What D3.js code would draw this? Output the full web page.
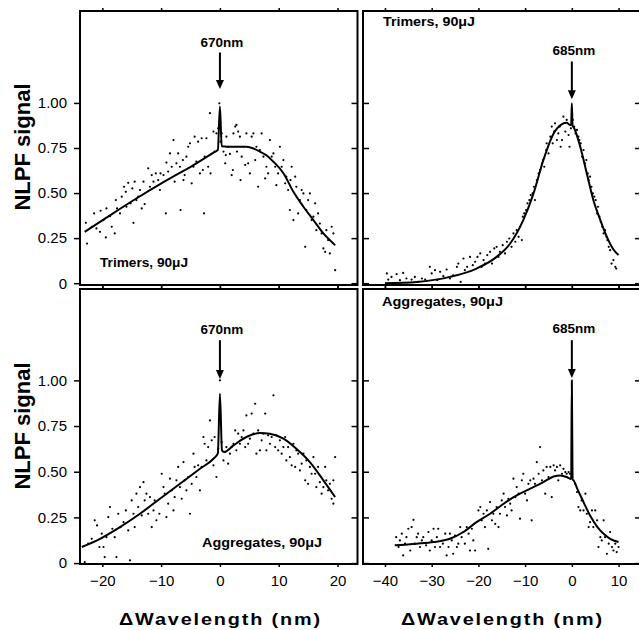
<!DOCTYPE html>
<html>
<head>
<meta charset="utf-8">
<script src="https://cdn.jsdelivr.net/npm/d3@7"></script>
<style>
  body { margin: 0; background: #fff; }
  svg { display: block; font-family: "Liberation Sans", Arial, sans-serif; }
</style>
</head>
<body>
<div id="vis"></div>
<script>
// Four NLPF panels: trimers / aggregates, two excitation wavelengths.
// Dots = measured signal, line = fit, arrow = pump wavelength.

// ---- data: [delta wavelength (nm), NLPF signal] ----
const tlDots = [[-22.8,0.335],[-22.6,0.22],[-21.8,0.313],[-21.4,0.387],[-21.0,0.304],[-20.4,0.285],[-20.3,0.402],[-19.8,0.35],[-19.4,0.254],[-19.3,0.415],[-18.7,0.372],[-18.4,0.313],[-17.9,0.276],[-17.7,0.461],[-17.5,0.415],[-17.0,0.387],[-16.7,0.48],[-16.3,0.535],[-16.0,0.507],[-15.9,0.424],[-15.6,0.557],[-15.2,0.443],[-14.9,0.526],[-14.7,0.335],[-14.5,0.563],[-14.2,0.461],[-13.9,0.48],[-13.6,0.517],[-13.3,0.415],[-13.0,0.563],[-12.8,0.439],[-12.2,0.637],[-11.9,0.535],[-11.6,0.6],[-11.3,0.563],[-10.9,0.609],[-10.5,0.572],[-10.2,0.517],[-10.1,0.609],[-9.6,0.6],[-9.2,0.387],[-9.1,0.669],[-8.8,0.619],[-8.5,0.72],[-8.2,0.646],[-7.9,0.794],[-7.7,0.563],[-7.4,0.665],[-7.1,0.72],[-6.8,0.646],[-6.7,0.406],[-6.3,0.683],[-6.2,0.572],[-6.0,0.6],[-5.7,0.702],[-5.4,0.757],[-5.1,0.776],[-4.8,0.554],[-4.5,0.646],[-4.3,0.813],[-4.0,0.674],[-3.7,0.785],[-3.4,0.609],[-3.1,0.804],[-2.9,0.628],[-2.7,0.387],[-2.6,0.702],[-2.3,0.804],[-2.0,0.646],[-1.7,0.943],[-1.6,0.609],[-1.1,0.841],[-0.9,0.73],[-0.6,0.831],[-0.3,0.859],[-0.1,0.998],[0.1,0.785],[0.3,0.831],[0.6,0.73],[0.9,0.665],[1.0,0.711],[1.1,0.813],[1.4,0.757],[1.7,0.717],[2.0,0.6],[2.2,0.628],[2.3,0.831],[2.6,0.869],[2.8,0.878],[2.9,0.73],[3.1,0.841],[3.4,0.813],[3.5,0.572],[3.7,0.702],[4.0,0.757],[4.3,0.656],[4.5,0.831],[4.8,0.665],[5.1,0.609],[5.4,0.813],[5.7,0.831],[6.0,0.683],[6.2,0.757],[6.5,0.535],[6.8,0.739],[7.1,0.831],[7.4,0.702],[7.7,0.581],[7.9,0.646],[8.2,0.609],[8.5,0.794],[8.8,0.702],[9.1,0.72],[9.4,0.646],[9.6,0.544],[9.9,0.609],[10.2,0.757],[10.5,0.646],[10.8,0.683],[11.1,0.554],[11.3,0.591],[11.6,0.517],[11.9,0.406],[12.0,0.572],[12.2,0.646],[12.5,0.35],[12.8,0.591],[13.0,0.535],[13.3,0.387],[13.6,0.461],[13.9,0.517],[14.2,0.498],[14.5,0.202],[14.7,0.406],[15.0,0.461],[15.3,0.498],[15.6,0.35],[15.9,0.369],[16.2,0.443],[16.4,0.294],[16.7,0.387],[17.0,0.331],[17.3,0.276],[17.6,0.193],[17.9,0.174],[18.1,0.294],[18.4,0.239],[18.7,0.165],[19.0,0.313],[19.3,0.276],[19.6,0.072]];
const tlFit = [[-23.0,0.285],[-20.4,0.34],[-14.7,0.46],[-9.1,0.57],[-4.5,0.655],[-1.1,0.724],[-0.35,0.74],[0,0.98],[0.3,0.76],[2.3,0.757],[4.5,0.757],[6.8,0.73],[7.9,0.71],[9.1,0.674],[10.8,0.61],[12.5,0.507],[14.2,0.424],[15.9,0.35],[17.6,0.276],[19.6,0.211]];

const trDots = [[-39.6,0.054],[-39.3,0.02],[-38.6,0.035],[-37.5,0.05],[-36.8,0.017],[-36.1,0.057],[-35.4,0.026],[-34.3,0.02],[-33.6,0.035],[-32.9,0.007],[-32.1,0.026],[-31.4,0.02],[-30.4,0.091],[-30.0,0.054],[-29.3,0.072],[-28.8,0.017],[-28.2,0.063],[-27.5,0.039],[-26.8,0.076],[-26.1,0.026],[-25.4,0.044],[-24.6,0.091],[-24.3,0.109],[-23.8,0.007],[-23.2,0.137],[-22.9,0.072],[-22.4,0.091],[-21.8,0.146],[-21.2,0.1],[-20.7,0.119],[-20.2,0.146],[-19.6,0.165],[-19.3,0.091],[-18.9,0.128],[-18.6,0.109],[-18.1,0.156],[-17.5,0.174],[-17.1,0.109],[-16.6,0.193],[-16.1,0.202],[-15.7,0.146],[-15.4,0.174],[-14.8,0.211],[-14.3,0.165],[-13.9,0.23],[-13.4,0.248],[-12.9,0.202],[-12.5,0.276],[-12.1,0.23],[-11.8,0.294],[-11.4,0.257],[-11.1,0.313],[-10.7,0.239],[-10.5,0.369],[-10.2,0.387],[-9.8,0.406],[-9.5,0.443],[-9.1,0.461],[-8.8,0.489],[-8.4,0.498],[-8.1,0.535],[-7.9,0.461],[-7.5,0.572],[-7.1,0.609],[-6.8,0.628],[-6.4,0.665],[-6.2,0.683],[-5.9,0.646],[-5.5,0.739],[-5.4,0.776],[-5.0,0.72],[-4.6,0.813],[-4.3,0.869],[-4.1,0.776],[-3.8,0.841],[-3.6,0.887],[-3.2,0.794],[-2.9,0.831],[-2.6,0.869],[-2.4,0.757],[-2.1,0.794],[-1.8,0.924],[-1.4,0.841],[-1.1,0.906],[-0.7,0.822],[-0.5,0.757],[-0.2,0.859],[0.2,0.906],[0.5,0.869],[0.8,0.831],[1.1,0.85],[1.4,0.813],[1.6,0.794],[1.9,0.776],[2.2,0.702],[2.5,0.739],[2.8,0.665],[3.1,0.683],[3.4,0.609],[3.6,0.572],[3.9,0.591],[4.2,0.535],[4.5,0.498],[4.8,0.48],[5.1,0.461],[5.4,0.387],[5.6,0.424],[5.9,0.369],[6.2,0.341],[6.5,0.313],[6.8,0.276],[7.1,0.294],[7.4,0.257],[7.6,0.239],[7.9,0.202],[8.2,0.183],[8.5,0.109],[8.9,0.128],[9.3,0.091],[9.5,0.081]];
const trFit = [[-40,0.0],[-33.2,0.007],[-26.1,0.035],[-20.4,0.081],[-16.1,0.146],[-13.2,0.22],[-10.4,0.35],[-8.2,0.498],[-6.1,0.683],[-3.9,0.831],[-2.1,0.883],[-1.1,0.89],[-0.4,0.878],[-0.15,0.88],[0,0.998],[0.15,0.875],[0.5,0.86],[1.8,0.757],[3.2,0.609],[4.6,0.461],[6.1,0.35],[7.5,0.257],[8.9,0.187],[10.0,0.156]];

const blDots = [[-23.0,0.005],[-22.4,0.106],[-21.8,0.133],[-21.3,0.234],[-20.9,0.206],[-20.5,0.088],[-20.1,0.161],[-19.8,0.088],[-19.6,0.033],[-19.3,0.142],[-19.0,0.252],[-18.7,0.307],[-18.3,0.188],[-17.9,0.142],[-17.6,0.033],[-17.3,0.27],[-16.9,0.197],[-16.4,0.224],[-16.0,0.288],[-15.6,0.179],[-15.3,0.015],[-15.0,0.343],[-14.7,0.27],[-14.5,0.197],[-14.2,0.38],[-13.9,0.307],[-13.6,0.416],[-13.3,0.261],[-13.0,0.443],[-12.8,0.343],[-12.5,0.38],[-12.2,0.27],[-11.9,0.361],[-11.6,0.197],[-11.3,0.288],[-11.1,0.343],[-10.8,0.234],[-10.3,0.27],[-9.9,0.489],[-9.6,0.416],[-9.4,0.38],[-9.1,0.252],[-8.8,0.325],[-8.5,0.462],[-8.2,0.398],[-7.9,0.288],[-7.7,0.361],[-7.4,0.453],[-7.1,0.526],[-6.8,0.416],[-6.5,0.352],[-6.2,0.553],[-6.0,0.453],[-5.7,0.398],[-5.4,0.471],[-5.1,0.27],[-4.8,0.434],[-4.5,0.599],[-4.3,0.526],[-4.0,0.471],[-3.7,0.535],[-3.4,0.398],[-3.1,0.526],[-2.8,0.69],[-2.6,0.653],[-2.3,0.562],[-2.0,0.635],[-1.7,0.781],[-1.4,0.672],[-1.1,0.535],[-0.9,0.69],[-0.6,0.471],[-0.3,0.626],[0.0,1.0],[0.3,0.662],[0.6,0.562],[0.9,0.608],[1.1,0.635],[1.4,0.544],[1.7,0.599],[2.0,0.635],[2.3,0.653],[2.6,0.726],[2.8,0.617],[3.1,0.708],[3.4,0.653],[3.7,0.69],[4.0,0.726],[4.3,0.635],[4.5,0.808],[4.8,0.653],[5.1,0.681],[5.4,0.818],[5.7,0.708],[6.0,0.872],[6.2,0.599],[6.5,0.726],[6.8,0.617],[7.1,0.672],[7.4,0.708],[7.7,0.818],[7.9,0.617],[8.2,0.699],[8.5,0.653],[8.8,0.69],[9.1,0.918],[9.4,0.635],[9.6,0.699],[9.9,0.617],[10.2,0.672],[10.5,0.599],[10.8,0.635],[11.1,0.69],[11.3,0.562],[11.6,0.635],[11.9,0.58],[12.2,0.535],[12.5,0.653],[12.8,0.526],[13.0,0.617],[13.3,0.599],[13.6,0.507],[13.9,0.544],[14.2,0.599],[14.5,0.453],[14.7,0.562],[15.0,0.434],[15.3,0.526],[15.6,0.489],[15.9,0.58],[16.2,0.489],[16.4,0.416],[16.7,0.526],[17.0,0.443],[17.3,0.38],[17.6,0.416],[17.9,0.526],[18.1,0.453],[18.4,0.398],[18.7,0.434],[19.0,0.352],[19.3,0.325],[19.6,0.58],[19.3,0.453]];
const blFit = [[-23.5,0.088],[-20.4,0.133],[-17.0,0.197],[-13.6,0.27],[-10.2,0.352],[-6.8,0.434],[-3.4,0.516],[-1.1,0.571],[-0.35,0.6],[0,0.927],[0.35,0.617],[0.7,0.608],[2.3,0.644],[4.5,0.69],[6.8,0.712],[8.5,0.708],[10.8,0.681],[13.0,0.626],[15.3,0.553],[17.6,0.453],[19.6,0.361]];

const brDots = [[-37.6,0.142],[-37.1,0.088],[-36.8,0.124],[-36.4,0.161],[-36.1,0.042],[-35.7,0.106],[-35.4,0.142],[-35.0,0.188],[-34.6,0.069],[-34.3,0.197],[-33.9,0.237],[-33.6,0.106],[-33.2,0.142],[-32.9,0.161],[-32.5,0.088],[-32.1,0.124],[-31.8,0.142],[-31.2,0.097],[-30.7,0.17],[-30.4,0.069],[-30.0,0.124],[-29.6,0.188],[-29.3,0.088],[-28.9,0.142],[-28.6,0.188],[-28.2,0.088],[-27.6,0.106],[-27.1,0.161],[-26.8,0.042],[-26.4,0.088],[-26.1,0.161],[-25.7,0.124],[-25.4,0.051],[-25.0,0.151],[-24.6,0.088],[-24.3,0.106],[-23.9,0.197],[-23.6,0.142],[-23.2,0.17],[-22.9,0.106],[-22.5,0.197],[-22.1,0.161],[-21.8,0.069],[-21.4,0.188],[-21.1,0.124],[-20.7,0.069],[-20.0,0.288],[-19.6,0.307],[-19.3,0.234],[-18.9,0.27],[-18.6,0.197],[-18.2,0.288],[-17.9,0.078],[-17.5,0.334],[-17.1,0.234],[-16.8,0.27],[-16.4,0.215],[-16.1,0.307],[-15.7,0.197],[-15.4,0.27],[-15.0,0.343],[-14.6,0.38],[-14.3,0.307],[-13.9,0.261],[-13.6,0.352],[-13.2,0.325],[-12.9,0.288],[-12.5,0.462],[-12.1,0.361],[-11.8,0.416],[-11.4,0.38],[-11.1,0.243],[-10.7,0.453],[-10.4,0.489],[-10.0,0.38],[-9.6,0.343],[-9.3,0.434],[-8.9,0.453],[-8.6,0.234],[-8.2,0.462],[-7.9,0.434],[-7.5,0.553],[-7.1,0.489],[-6.8,0.635],[-6.4,0.453],[-6.1,0.507],[-5.7,0.38],[-5.4,0.526],[-5.0,0.471],[-4.6,0.526],[-4.3,0.361],[-3.9,0.535],[-3.6,0.507],[-3.2,0.526],[-2.9,0.453],[-2.5,0.535],[-2.1,0.489],[-1.8,0.516],[-1.4,0.498],[-1.1,0.489],[-0.7,0.498],[-0.4,0.489],[0.7,0.434],[1.1,0.389],[1.4,0.307],[1.8,0.288],[2.1,0.343],[2.5,0.288],[2.9,0.38],[3.2,0.27],[3.6,0.197],[3.9,0.224],[4.3,0.288],[4.6,0.197],[5.0,0.288],[5.4,0.234],[5.7,0.088],[6.1,0.142],[6.4,0.124],[6.8,0.234],[7.1,0.142],[7.5,0.051],[7.9,0.106],[8.2,0.17],[8.6,0.088],[8.9,0.069],[9.3,0.106],[9.6,0.06],[10.0,0.088]];
const brFit = [[-37.9,0.097],[-33.2,0.106],[-29.6,0.115],[-26.1,0.133],[-23.2,0.17],[-20.4,0.224],[-17.5,0.27],[-14.6,0.325],[-11.8,0.37],[-8.9,0.407],[-6.1,0.443],[-3.9,0.474],[-2.5,0.48],[-1.1,0.471],[-0.4,0.462],[-0.15,0.46],[0,1.0],[0.15,0.458],[0.4,0.452],[1.1,0.41],[2.5,0.334],[3.9,0.26],[5.4,0.2],[6.8,0.16],[8.2,0.133],[10.0,0.115]];

// ---- ticks & labels ----
const yTicks = [0, 0.25, 0.5, 0.75, 1];
const yTickLabels = ["0", "0.25", "0.50", "0.75", "1.00"];
const xTicksLeft = [-20, -10, 0, 10, 20];
const xTicksRight = [-40, -30, -20, -10, 0, 10];
const peakLabels = ["670nm", "685nm", "670nm", "685nm"];
const sampleLabels = ["Trimers, 90\u03bcJ", "Trimers, 90\u03bcJ", "Aggregates, 90\u03bcJ", "Aggregates, 90\u03bcJ"];
// arrow top, arrow tip, label baseline (signal units)
const arrowTop = [1.28, 1.23, 1.22, 1.22];
const arrowTip = [1.077, 1.02, 1.008, 1.013];
const peakLabelY = [1.31, 1.266, 1.254, 1.26];

// 1) Layout
const W = 639, H = 630;
const svg = d3.select("#vis").append("svg")
  .attr("width", W)
  .attr("height", H);

const panels = [
  { x0: 80,  x1: 357.5, y0: 11,  y1: 285, xDom: [-23.8, 23.4], yDom: [-0.01, 1.51],
    dots: tlDots, fit: tlFit, xt: xTicksLeft, left: true, bottom: false,
    sample: { x: 100, y: 267, anchor: "start", len: 88 } },
  { x0: 363, x1: 641,   y0: 11,  y1: 285, xDom: [-44.7, 14.8], yDom: [-0.01, 1.51],
    dots: trDots, fit: trFit, xt: xTicksRight, left: false, bottom: false,
    sample: { x: 383, y: 26, anchor: "start", len: 92 } },
  { x0: 80,  x1: 357.5, y0: 289, y1: 564, xDom: [-23.8, 23.4], yDom: [-0.005, 1.5],
    dots: blDots, fit: blFit, xt: xTicksLeft, left: true, bottom: true,
    sample: { x: 322, y: 547, anchor: "end", len: 120 } },
  { x0: 363, x1: 641,   y0: 289, y1: 564, xDom: [-44.7, 14.8], yDom: [-0.005, 1.5],
    dots: brDots, fit: brFit, xt: xTicksRight, left: false, bottom: true,
    sample: { x: 382, y: 306, anchor: "start", len: 121 } }
];

function styleAxis(g) {
  g.select(".domain").remove();
  g.selectAll(".tick line").attr("stroke", "#000").attr("stroke-width", 1.5);
  g.selectAll(".tick text").attr("fill", "#000").attr("font-size", 15)
    .attr("font-family", "'Liberation Sans', Arial, sans-serif");
}

// 2) Draw each panel
panels.forEach((p, i) => {
  const x = d3.scaleLinear().domain(p.xDom).range([p.x0, p.x1]);
  const y = d3.scaleLinear().domain(p.yDom).range([p.y1, p.y0]);
  const g = svg.append("g");

  // x ticks, top and bottom (outward)
  g.append("g")
    .attr("transform", `translate(0,${p.y0})`)
    .call(d3.axisTop(x).tickValues(p.xt).tickSize(3).tickFormat(""))
    .call(styleAxis);
  g.append("g")
    .attr("transform", `translate(0,${p.y1})`)
    .call(d3.axisBottom(x).tickValues(p.xt).tickSize(3).tickPadding(8)
      .tickFormat(p.bottom ? d3.format("d") : ""))
    .call(styleAxis);

  // y ticks
  if (p.left) {
    g.append("g")
      .attr("transform", `translate(${p.x0},0)`)
      .call(d3.axisLeft(y).tickValues(yTicks).tickSize(6).tickPadding(7)
        .tickFormat((d, k) => yTickLabels[k]))
      .call(styleAxis);
  } else {
    g.append("g")
      .attr("transform", `translate(${p.x0},0)`)
      .call(d3.axisLeft(y).tickValues(yTicks).tickSize(-6).tickFormat(""))
      .call(styleAxis);
  }
  g.append("g")
    .attr("transform", `translate(${p.x1},0)`)
    .call(d3.axisRight(y).tickValues(yTicks).tickSize(-6).tickFormat(""))
    .call(styleAxis);

  // frame
  g.append("rect")
    .attr("x", p.x0).attr("y", p.y0)
    .attr("width", p.x1 - p.x0).attr("height", p.y1 - p.y0)
    .attr("fill", "none").attr("stroke", "#000").attr("stroke-width", 2);

  // data dots
  g.selectAll("circle.dot")
    .data(p.dots)
    .enter().append("circle")
      .attr("class", "dot")
      .attr("cx", d => x(d[0]))
      .attr("cy", d => y(d[1]))
      .attr("r", 1.1)
      .attr("fill", "#000");

  // fit line
  g.append("path")
    .datum(p.fit)
    .attr("fill", "none")
    .attr("stroke", "#000")
    .attr("stroke-width", 2)
    .attr("stroke-linejoin", "round")
    .attr("d", d3.line().x(d => x(d[0])).y(d => y(d[1])).curve(d3.curveMonotoneX));

  // pump arrow + label
  const ax = x(0);
  const tip = y(arrowTip[i]);
  g.append("line")
    .attr("x1", ax).attr("x2", ax)
    .attr("y1", y(arrowTop[i])).attr("y2", tip - 7)
    .attr("stroke", "#000").attr("stroke-width", 2);
  g.append("path")
    .attr("d", `M${ax - 4},${tip - 9}L${ax + 4},${tip - 9}L${ax},${tip}Z`)
    .attr("fill", "#000");
  g.append("text")
    .attr("x", ax + 2)
    .attr("y", y(peakLabelY[i]))
    .attr("text-anchor", "middle")
    .attr("font-size", 13.5)
    .attr("font-weight", "bold")
    .text(peakLabels[i]);

  // sample label
  g.append("text")
    .attr("x", p.sample.x)
    .attr("y", p.sample.y)
    .attr("text-anchor", p.sample.anchor)
    .attr("font-size", 12.5)
    .attr("font-weight", "bold")
    .attr("textLength", p.sample.len)
    .attr("lengthAdjust", "spacingAndGlyphs")
    .text(sampleLabels[i]);
});

// 3) Axis titles
[147, 426].forEach(cy => {
  svg.append("text")
    .attr("transform", `translate(30,${cy}) rotate(-90)`)
    .attr("text-anchor", "middle")
    .attr("font-size", 22)
    .attr("font-weight", "bold")
    .text("NLPF signal");
});
[220, 502].forEach(cx => {
  svg.append("text")
    .attr("x", cx - 101)
    .attr("y", 625)
    .attr("font-size", 16)
    .attr("font-weight", "bold")
    .attr("letter-spacing", 1.5)
    .attr("textLength", 203)
    .attr("lengthAdjust", "spacingAndGlyphs")
    .text("\u0394Wavelength (nm)");
});
</script>
</body>
</html>
